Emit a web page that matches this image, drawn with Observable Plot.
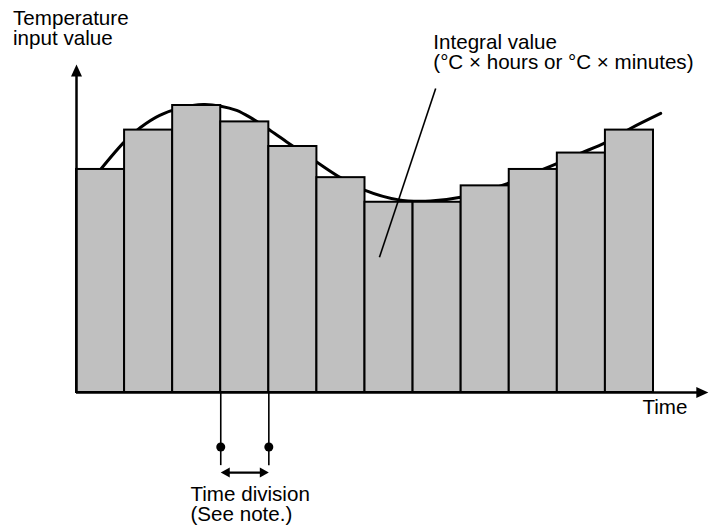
<!DOCTYPE html>
<html>
<head>
<meta charset="utf-8">
<script src="https://cdn.jsdelivr.net/npm/d3@7"></script>
<script src="https://cdn.jsdelivr.net/npm/@observablehq/plot@0.6"></script>
<style>
  html, body { margin: 0; padding: 0; background: #fff; }
  #chart svg { display: block; overflow: visible; }
</style>
</head>
<body>
<div id="chart"></div>
<script>
// ---- data ----
const barValues = [68, 80, 87.5, 82.5, 75, 65.5, 58, 58, 63, 68, 73, 80];
const curveX = [0.5, 1.0, 1.33, 1.73, 2.16, 2.64, 3.0, 3.33, 3.62, 4.03, 4.45, 5.01, 5.49, 5.99, 6.68, 7.36, 7.99, 8.96, 9.75, 10.48, 11.0, 11.52, 12.15];
const curveY = [68.0, 76.5, 80.8, 84.5, 86.7, 87.8, 87.3, 86.0, 83.8, 79.9, 75.6, 70.1, 65.5, 61.7, 58.8, 58.4, 59.5, 63.7, 68.3, 72.9, 76.2, 80.5, 85.1];
const yAxisLabel = "Temperature\ninput value";
const xAxisLabel = "Time";
const integralLabel = "Integral value\n(°C × hours or °C × minutes)";
const divisionLabel = "Time division\n(See note.)";
const divisionBounds = [3, 4];   // the highlighted time division
const xAxisEnd = 13.14;
const yAxisEnd = 100;

// ---- derived tables ----
const bars = barValues.map((v, i) => ({x1: i, x2: i + 1, y: v}));
const curve = curveX.map((x, i) => ({x, y: curveY[i]}));

const font = "'Liberation Sans', Arial, Helvetica, sans-serif";
const fs = 20.6;

// custom filled arrowheads (tip at the origin, pointing up)
const bigHead = {draw(ctx) { ctx.moveTo(0, 0); ctx.lineTo(5.5, 12); ctx.lineTo(-5.5, 12); ctx.closePath(); }};
const smallHead = {draw(ctx) { ctx.moveTo(0, 0); ctx.lineTo(5, 9); ctx.lineTo(-5, 9); ctx.closePath(); }};

const textOpts = {text: d => d, textAnchor: "start", lineAnchor: "bottom", lineHeight: 1, fontSize: fs, fill: "#000"};

const chart = Plot.plot({
  width: 709,
  height: 525,
  margin: 0,
  style: {background: "#fff", fontFamily: font, fontSize: fs + "px", color: "#000"},
  x: {axis: null, domain: [0, 12], range: [76, 653]},
  y: {axis: null, domain: [0, 100], range: [392, 64]},
  marks: [
    // smooth temperature curve (behind bars)
    Plot.line(curve, {x: "x", y: "y", curve: "catmull-rom", stroke: "#000", strokeWidth: 3}),
    // bars
    Plot.rect(bars, {x1: "x1", x2: "x2", y1: 0, y2: "y", fill: "#c0c0c0", stroke: "#000", strokeWidth: 2}),
    // axes
    Plot.ruleX([0], {y1: 0, y2: yAxisEnd - 3, stroke: "#000", strokeWidth: 2.5}),
    Plot.ruleY([0], {x1: 0, x2: xAxisEnd - 0.2, stroke: "#000", strokeWidth: 2.5}),
    Plot.dot([{x: 0, y: yAxisEnd}], {x: "x", y: "y", symbol: bigHead, fill: "#000", stroke: "none", r: 5}),
    Plot.dot([{x: xAxisEnd, y: 0}], {x: "x", y: "y", symbol: bigHead, rotate: 90, fill: "#000", stroke: "none", r: 5}),
    // leader line for integral value
    Plot.link([{x1: 7.47, y1: 92.7, x2: 6.30, y2: 41.2}], {x1: "x1", y1: "y1", x2: "x2", y2: "y2", stroke: "#000", strokeWidth: 1.6}),
    // time division markers
    Plot.ruleX(divisionBounds, {y1: 0, y2: -22.3, stroke: "#000", strokeWidth: 1.6}),
    Plot.dot(divisionBounds, {x: d => d, y: -16.6, r: 4.5, fill: "#000", stroke: "none"}),
    Plot.ruleY([-24.4], {x1: divisionBounds[0] + 0.1, x2: divisionBounds[1] - 0.1, stroke: "#000", strokeWidth: 2.2}),
    Plot.dot([{x: divisionBounds[0], a: -90}, {x: divisionBounds[1], a: 90}], {x: "x", y: -24.4, rotate: "a", symbol: smallHead, fill: "#000", stroke: "none", r: 4}),
    // texts
    Plot.text([yAxisLabel], {x: -1.32, y: 105.8, ...textOpts}),
    Plot.text([integralLabel], {x: 7.42, y: 98.5, ...textOpts}),
    Plot.text([xAxisLabel], {x: 11.77, y: -6.7, ...textOpts}),
    Plot.text([divisionLabel], {x: 2.37, y: -39.3, ...textOpts})
  ]
});
document.getElementById("chart").appendChild(chart);
</script>
</body>
</html>
